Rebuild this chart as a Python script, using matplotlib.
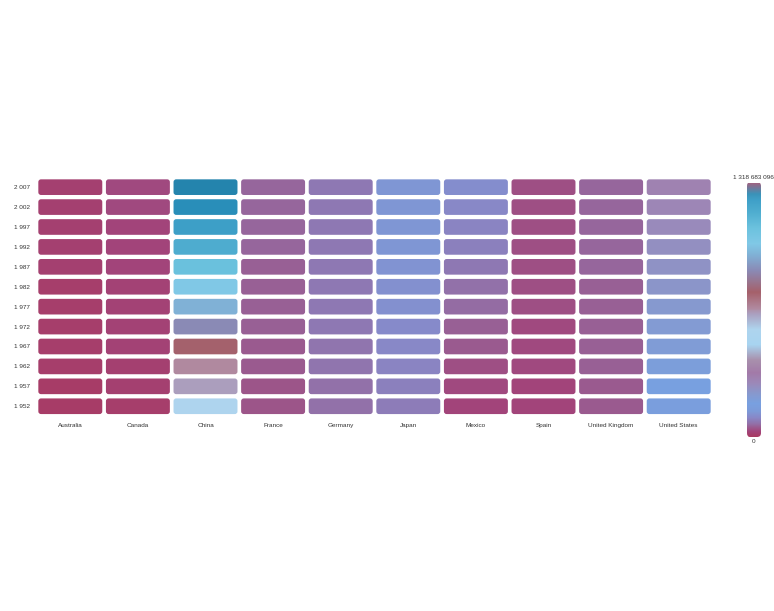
import matplotlib
matplotlib.use("Agg")
import matplotlib.pyplot as plt
from matplotlib.colors import LinearSegmentedColormap, Normalize
from matplotlib.patches import FancyBboxPatch
from matplotlib.cm import ScalarMappable
import numpy as np

plt.rcParams['font.family'] = ['Liberation Sans', 'DejaVu Sans']

countries = ["Australia", "Canada", "China", "France", "Germany", "Japan",
             "Mexico", "Spain", "United Kingdom", "United States"]
years = [1952, 1957, 1962, 1967, 1972, 1977, 1982, 1987, 1992, 1997, 2002, 2007]

australia = [8691212, 9712569, 10794968, 11872264, 13177000, 14074100, 15184200, 16257249, 17481977, 18565243, 19546792, 20434176]
canada = [14785584, 17010154, 18985849, 20819767, 22284500, 23796400, 25201900, 26549700, 28523502, 30305843, 31902268, 33390141]
china = [556263527, 637408000, 665770000, 754550000, 862030000, 943455000, 1000281000, 1084035000, 1164970000, 1230075000, 1280400000, 1318683096]
france = [42459667, 44310863, 47124000, 49569000, 51732000, 53165019, 54433565, 55630100, 57374179, 58623428, 59925035, 61083916]
germany = [69145952, 71019069, 73739117, 76368453, 78717088, 78160773, 78335266, 77718298, 80597764, 82011073, 82350671, 82400996]
japan = [86459025, 91563009, 95831757, 100825279, 107188273, 113872473, 118454974, 122091325, 124329269, 125956499, 127065841, 127467972]
mexico = [30144317, 35015548, 41121485, 47995559, 55984294, 63759976, 71640904, 80122492, 88111030, 95895146, 102479927, 108700891]
spain = [28549870, 29841614, 31158061, 32850275, 34513161, 36439000, 37983310, 38880702, 39549438, 39855442, 40152517, 40448191]
uk = [50430000, 51430000, 53292000, 54959000, 56079000, 56179000, 56339704, 56981620, 57866349, 58808266, 59912431, 60776238]
usa = [157553000, 171984000, 186538000, 198712000, 209896000, 220239000, 232187133, 242803533, 256894189, 272911760, 287675526, 301139947]

series = [australia, canada, china, france, germany, japan, mexico, spain, uk, usa]

stops = [
    (0.00, "#a83a62"), (0.02, "#a2447a"), (0.035, "#9a5a8e"), (0.05, "#9270a8"),
    (0.075, "#8888c8"), (0.10, "#7c9ad8"), (0.13, "#78a0e0"), (0.17, "#8898cc"),
    (0.21, "#9c88b8"), (0.25, "#a27aa8"), (0.30, "#a890ac"), (0.36, "#a8d4f0"),
    (0.42, "#aed4ee"), (0.48, "#aaa0c0"), (0.505, "#b08aa0"), (0.57, "#a5606a"),
    (0.655, "#8a8ab5"), (0.715, "#80b0d5"), (0.76, "#80c8e6"), (0.82, "#6cc2de"),
    (0.88, "#50aed0"), (0.93, "#3fa0c8"), (0.97, "#2a8fba"), (1.00, "#2484ad"),
]
cmap = LinearSegmentedColormap.from_list("pop", stops)
cbar_cmap = LinearSegmentedColormap.from_list(
    "pop_bar", stops[:-2] + [(0.955, "#3a92b8"), (1.0, "#a5607e")])

vmax = max(max(s) for s in series)
norm = Normalize(0, vmax)

W, H = 774, 611
fig = plt.figure(figsize=(W / 100, H / 100), dpi=100)
x0, x1, ytop, ybot = 36.5, 712.5, 177.2, 416.2
ax = fig.add_axes([x0 / W, 1 - ybot / H, (x1 - x0) / W, (ybot - ytop) / H])
ax.set_xlim(0, len(countries))
ax.set_ylim(0, len(years))

gx, gy = 0.027, 0.107
for i, vals in enumerate(series):
    for j, v in enumerate(vals):
        p = FancyBboxPatch((i + gx, j + gy), 1 - 2 * gx, 1 - 2 * gy,
                           boxstyle="round,pad=0,rounding_size=0.04",
                           mutation_aspect=3.4,
                           facecolor=cmap(norm(v)), edgecolor="none")
        ax.add_patch(p)

ax.set_xticks(np.arange(len(countries)) + 0.5)
ax.set_xticklabels(countries, fontsize=4.6, color="#333333")
ax.set_yticks(np.arange(len(years)) + 0.5)
ax.set_yticklabels([f"{y:,}".replace(",", " ") for y in years], fontsize=4.6, color="#333333")
ax.tick_params(axis="x", length=0, pad=5)
ax.tick_params(axis="y", length=0, pad=5)
for s in ax.spines.values():
    s.set_visible(False)

# colorbar
cx0, cx1, cy0, cy1 = 746.5, 760.5, 182.5, 436.5
cax = fig.add_axes([cx0 / W, 1 - cy1 / H, (cx1 - cx0) / W, (cy1 - cy0) / H])
sm = ScalarMappable(norm=norm, cmap=cbar_cmap)
cb = fig.colorbar(sm, cax=cax)
cb.outline.set_visible(False)
cb.set_ticks([])
clip = FancyBboxPatch((0, 0), 1, 1, boxstyle="round,pad=0,rounding_size=0.25",
                      mutation_aspect=0.06, transform=cax.transAxes,
                      facecolor="none", edgecolor="none")
cax.add_patch(clip)
cb.solids.set_clip_path(clip)
fig.text((cx0 + cx1) / 2 / W, 1 - 177.5 / H, f"{vmax:,}".replace(",", " "),
         ha="center", va="center", fontsize=4.6, color="#333333")
fig.text((cx0 + cx1) / 2 / W, 1 - 441.5 / H, "0",
         ha="center", va="center", fontsize=4.6, color="#333333")

fig.savefig("out.png", dpi=100, facecolor="white")
